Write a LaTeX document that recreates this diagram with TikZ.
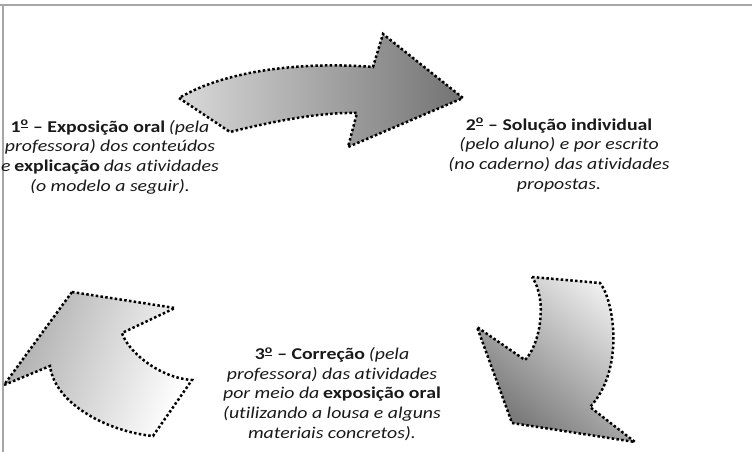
\documentclass[tikz,border=0pt]{standalone}
\usepackage{fontspec}
\setmainfont{Carlito}[RawFeature={-liga}, BoldFeatures={FakeStretch=1.2}, ItalicFeatures={FakeStretch=1.2}]
\newcommand{\ordm}{\textsuperscript{\underline{o}}}
\begin{document}
\begin{tikzpicture}[x=1pt,y=-1pt,
  arrowshape/.style={draw=black, line width=2.5pt, dash pattern=on 2.5pt off 2.3pt, line join=miter},
  lbl/.style={align=center, font=\fontsize{16.5}{19.7}\selectfont, text=black!90, inner sep=0pt},
  frameline/.style={draw=gray!70, line width=1.5pt}]
\useasboundingbox (0,0) rectangle (752,452);
% frame (top and left only)
\draw[frameline] (0,5) -- (752,5);
\draw[frameline] (3,5) -- (3,452);
% top arrow
\shadedraw[arrowshape, left color=gray!30, right color=gray!90!black]
  (179,98) -- (230,132) .. controls (270,122) and (320,112) .. (357,113)
  -- (348,147) -- (463,98) -- (383,34) -- (373,67)
  .. controls (310,62) and (230,68) .. (179,98) -- cycle;
% bottom-right arrow
\shadedraw[arrowshape, top color=gray!15, bottom color=gray!90!black, shading angle=-40]
  (532,277) -- (600,283) .. controls (614,300) and (625,370) .. (590,407)
  -- (635,442) -- (512,423) -- (477,327) -- (525,360)
  .. controls (540,345) and (548,300) .. (532,277) -- cycle;
% bottom-left arrow
\shadedraw[arrowshape, top color=gray!65, bottom color=white, shading angle=70]
  (72,292) -- (175,308) -- (122,333) .. controls (128,352) and (160,378) .. (192,380)
  -- (153,436) .. controls (110,432) and (55,405) .. (50,366)
  -- (4,385) -- cycle;
% texts
\node[lbl] (t1) at (110,157) {\textbf{1\ordm{} – Exposição oral} \textit{(pela}\\ \textit{professora) dos conteúdos}\\ \textit{e} \textbf{explicação} \textit{das atividades}\\ \textit{(o modelo a seguir).}};
\node[lbl] (t2) at (559,155) {\textbf{2\ordm{}  – Solução individual}\\ \textit{(pelo aluno) e por escrito}\\ \textit{(no caderno) das atividades}\\ \textit{propostas.}};
\node[lbl] (t3) at (332,394) {\textbf{3\ordm{} – Correção} \textit{(pela}\\ \textit{professora) das atividades}\\ \textit{por meio da} \textbf{exposição oral}\\ \textit{(utilizando a lousa e alguns}\\ \textit{materiais concretos).}};
\end{tikzpicture}
\end{document}
